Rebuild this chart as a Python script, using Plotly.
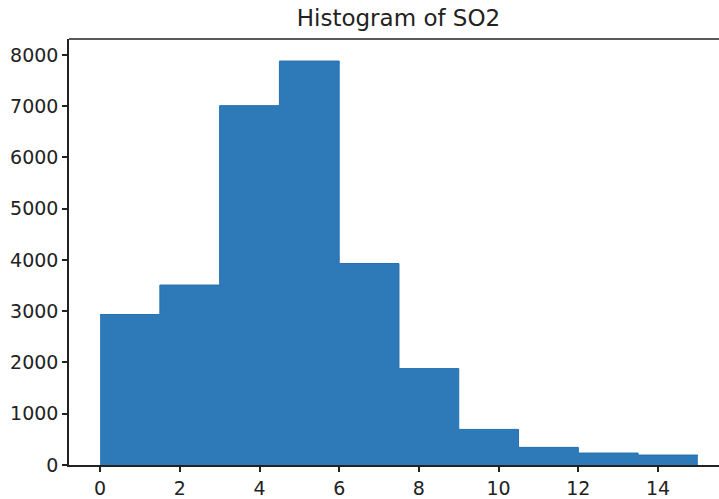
import plotly.graph_objects as go

bin_edges = [0, 1.5, 3, 4.5, 6, 7.5, 9, 10.5, 12, 13.5, 15]
counts = [2935, 3510, 7010, 7880, 3930, 1880, 694, 344, 233, 194]
x_ticks = [0, 2, 4, 6, 8, 10, 12, 14]
y_ticks = [0, 1000, 2000, 3000, 4000, 5000, 6000, 7000, 8000]
title_text = "Histogram of SO2"

bar_color = "rgb(46,122,184)"

# Histogram drawn as one step-filled area so adjacent bins merge without seams
step_x = list(bin_edges)
step_y = list(counts) + [counts[-1]]

fig = go.Figure(go.Scatter(
    x=step_x, y=step_y, mode="lines", line_shape="hv",
    line=dict(color="rgb(38,112,176)", width=1),
    fill="tozeroy", fillcolor=bar_color,
    showlegend=False, hoverinfo="skip",
))

font = "DejaVu Sans"
fig.update_layout(
    width=719, height=499,
    margin=dict(l=69, r=0, t=39, b=32),
    paper_bgcolor="white", plot_bgcolor="white",
    title=dict(text=title_text, x=(398.5 / 719), xanchor="center", xref="container",
               y=1 - 18 / 499, yanchor="middle",
               font=dict(family=font, size=23, color="#222")),
    font=dict(family=font, size=19, color="#222"),
)
fig.update_xaxes(
    range=[-0.78, 15.53], tickvals=x_ticks, ticktext=[str(v) for v in x_ticks],
    showgrid=False, zeroline=False, showline=True, linecolor="#222", linewidth=1.5,
    ticks="outside", ticklen=5, tickwidth=1.5, tickcolor="#222",
    tickfont=dict(family=font, size=19, color="#222"),
)
fig.update_yaxes(
    range=[0, 8310], tickvals=y_ticks, ticktext=[str(v) for v in y_ticks],
    showgrid=False, zeroline=False, showline=True, linecolor="#222", linewidth=1.5,
    ticks="outside", ticklen=5, tickwidth=1.5, tickcolor="#222",
    tickfont=dict(family=font, size=19, color="#222"),
)
fig.add_shape(type="line", xref="paper", yref="paper", x0=0, x1=1, y0=1, y1=1,
              line=dict(color="#222", width=1.5))

fig.write_html("out.html")
